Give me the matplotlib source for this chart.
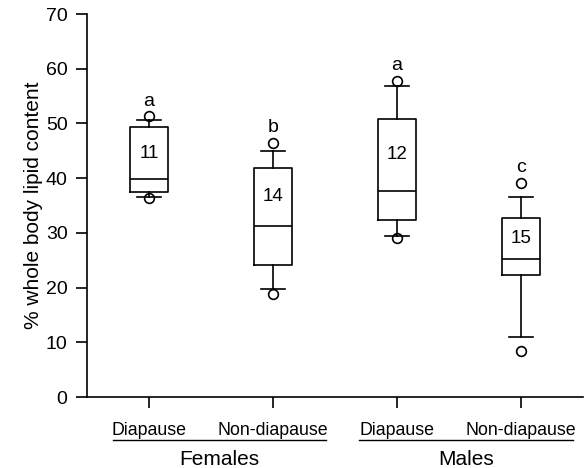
import matplotlib
matplotlib.use("Agg")
import matplotlib.pyplot as plt
from matplotlib.lines import Line2D
import matplotlib.transforms as mtransforms

plt.rcParams['font.family'] = ['Liberation Sans', 'DejaVu Sans']

# box statistics (% whole body lipid content)
groups = ['Diapause', 'Non-diapause', 'Diapause', 'Non-diapause']
sexes = ['Females', 'Males']
q1 = [37.4, 24.2, 32.4, 22.3]
med = [39.8, 31.3, 37.7, 25.2]
q3 = [49.3, 41.9, 50.8, 32.7]
whislo = [36.6, 19.8, 29.4, 11.0]
whishi = [50.6, 45.0, 56.9, 36.6]
fliers = [[51.3, 36.4], [46.5, 18.8], [57.8, 29.1], [39.1, 8.5]]
n_per_group = [11, 14, 12, 15]
letters = ['a', 'b', 'a', 'c']

lw = 1.2
positions = [1, 2, 3, 4]

stats = []
for i in range(len(groups)):
    stats.append(dict(med=med[i], q1=q1[i], q3=q3[i],
                      whislo=whislo[i], whishi=whishi[i], fliers=fliers[i]))

fig = plt.figure(figsize=(5.86, 4.68), dpi=100)
ax = fig.add_axes([0.1485, 0.1517, 0.8465, 0.8183])

ax.bxp(stats, positions=positions, widths=0.31, showfliers=True,
       boxprops=dict(color='black', linewidth=lw),
       medianprops=dict(color='black', linewidth=lw),
       whiskerprops=dict(color='black', linewidth=lw),
       capprops=dict(color='black', linewidth=lw),
       capwidths=0.19,
       flierprops=dict(marker='o', markerfacecolor='none', markeredgecolor='black',
                       markersize=7, markeredgewidth=1.2))

for i, p in enumerate(positions):
    ax.text(p, (q3[i] + med[i]) / 2, str(n_per_group[i]), ha='center', va='center', fontsize=13.5)
    top = max(fliers[i] + [whishi[i]])
    ax.annotate(letters[i], (p, top), xytext=(0, 11), textcoords='offset points',
                ha='center', va='center', fontsize=14)

ax.set_xlim(0.5, 4.5)
ax.set_ylim(0, 70)
ax.set_yticks(range(0, 71, 10))
ax.set_xticks(positions)
ax.set_xticklabels(groups, fontsize=12.8)
ax.tick_params(axis='y', labelsize=14, length=8, width=lw, direction='out', pad=6)
ax.tick_params(axis='x', length=8, width=lw, direction='out', pad=10)
ax.set_ylabel('% whole body lipid content', fontsize=15, labelpad=2)

for s in ['top', 'right']:
    ax.spines[s].set_visible(False)
for s in ['left', 'bottom']:
    ax.spines[s].set_linewidth(lw)

# group underline and labels
trans = mtransforms.blended_transform_factory(ax.transData, ax.transAxes)
spans = [(0.71, 2.43), (2.69, 4.42)]
for (x0, x1), sex in zip(spans, sexes):
    ax.add_line(Line2D([x0, x1], [-0.112, -0.112], transform=trans, color='black',
                       linewidth=1.0, clip_on=False))
    ax.text((x0 + x1) / 2, -0.162, sex, transform=trans, ha='center', va='center', fontsize=15)

fig.savefig('out.png', dpi=100, facecolor='white')
